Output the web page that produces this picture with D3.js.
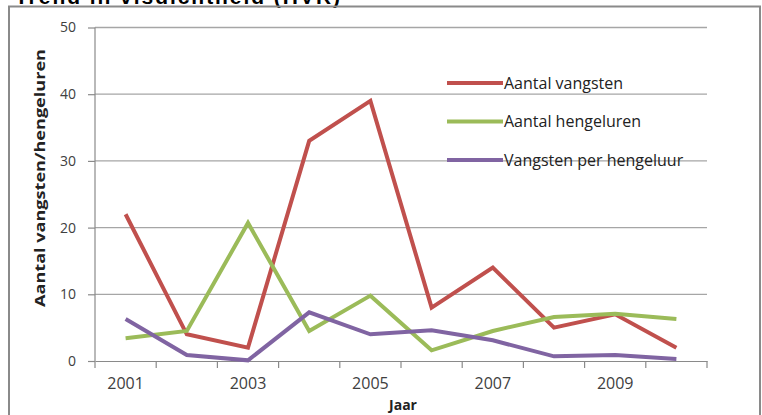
<!DOCTYPE html>
<html><head><meta charset="utf-8">
<script src="https://cdn.jsdelivr.net/npm/d3@7"></script>
<style>body{margin:0;background:#fff}svg{display:block}</style>
</head><body>
<script>
const years = [2001,2002,2003,2004,2005,2006,2007,2008,2009,2010];
const aantalVangsten = [22,4,2,33,39,8,14,5,7,2];
const aantalHengeluren = [3.4,4.5,20.7,4.5,9.8,1.6,4.5,6.6,7.1,6.3];
const vangstenPerUur = [6.3,0.9,0.1,7.3,4.0,4.6,3.1,0.7,0.9,0.3];
const seriesNames = ["Aantal vangsten","Aantal hengeluren","Vangsten per hengeluur"];
const yTicks = [0,10,20,30,40,50];
const xLabels = [2001,2003,2005,2007,2009];
const colors = ["#C0504D","#9BBB59","#8064A2"];

const W=762,H=415;
const svg=d3.select("body").append("svg").attr("width",W).attr("height",H);
const font="'Open Sans', 'Liberation Sans', sans-serif";

// title (clipped at top, as in the original)
svg.append("text").attr("x",15).attr("y",4).attr("font-family","'Liberation Sans', Arial, sans-serif")
  .attr("font-weight","bold").attr("font-size",21).attr("textLength",325).attr("fill","#000")
  .text("Trend in visdichtheid (HVR)");

// frame
svg.append("rect").attr("x",9).attr("y",6.5).attr("width",751).attr("height",420)
  .attr("fill","none").attr("stroke","#8a8a8a").attr("stroke-width",2);

const x=d3.scaleBand().domain(years).range([95,707]);
const y=d3.scaleLinear().domain([0,50]).range([361,27.5]);

// gridlines
svg.append("g").selectAll("line").data(yTicks.filter(d=>d>0)).join("line")
  .attr("x1",95).attr("x2",707).attr("y1",d=>y(d)).attr("y2",d=>y(d))
  .attr("stroke","#a6a6a6").attr("stroke-width",1.3);

// y axis
const ya=svg.append("g").attr("transform","translate(95,0)")
  .call(d3.axisLeft(y).tickValues(yTicks).tickSize(7).tickPadding(12));
ya.select(".domain").attr("stroke","#8a8a8a").attr("stroke-width",1.2).attr("d","M0,361V27.5");
ya.selectAll(".tick line").attr("stroke","#8a8a8a").attr("stroke-width",1.2);
ya.selectAll("text").attr("font-family",font).attr("font-size",14).attr("fill","#404040");

// x axis
const xa=svg.append("g").attr("transform","translate(0,361)")
  .call(d3.axisBottom(x).tickValues(xLabels).tickSize(0).tickPadding(17));
xa.select(".domain").attr("stroke","#8a8a8a").attr("stroke-width",1.2);
xa.selectAll("text").attr("font-family",font).attr("font-size",16).attr("fill","#404040");
// boundary ticks
const bounds=years.map(d=>x(d)).concat([x(years[years.length-1])+x.bandwidth()]);
svg.append("g").selectAll("line").data(bounds).join("line")
  .attr("x1",d=>d).attr("x2",d=>d).attr("y1",361).attr("y2",368)
  .attr("stroke","#8a8a8a").attr("stroke-width",1.2);

// axis titles
svg.append("text").attr("x",403).attr("y",410).attr("text-anchor","middle")
  .attr("font-family",font).attr("font-weight","bold").attr("font-size",14).attr("fill","#222").text("Jaar");
svg.append("text").attr("transform","translate(45,178) rotate(-90)").attr("text-anchor","middle")
  .attr("font-family",font).attr("font-weight","bold").attr("font-size",14).attr("fill","#222")
  .attr("textLength",258).attr("lengthAdjust","spacingAndGlyphs").text("Aantal vangsten/hengeluren");

// lines
const data=[aantalVangsten,aantalHengeluren,vangstenPerUur];
const line=d3.line().x((d,i)=>x(years[i])+x.bandwidth()/2).y(d=>y(d));
svg.append("g").selectAll("path").data(data).join("path")
  .attr("d",line).attr("fill","none").attr("stroke",(d,i)=>colors[i])
  .attr("stroke-width",4).attr("stroke-linejoin","miter").attr("stroke-linecap","butt");

// legend
const lg=svg.append("g").selectAll("g").data(seriesNames).join("g")
  .attr("transform",(d,i)=>`translate(447,${83+i*38.5})`);
lg.append("line").attr("x1",0).attr("x2",56).attr("stroke",(d,i)=>colors[i]).attr("stroke-width",4);
lg.append("text").attr("x",57).attr("y",5.5).attr("font-family",font).attr("font-size",16)
  .attr("fill","#222").text(d=>d);
</script>
</body></html>
